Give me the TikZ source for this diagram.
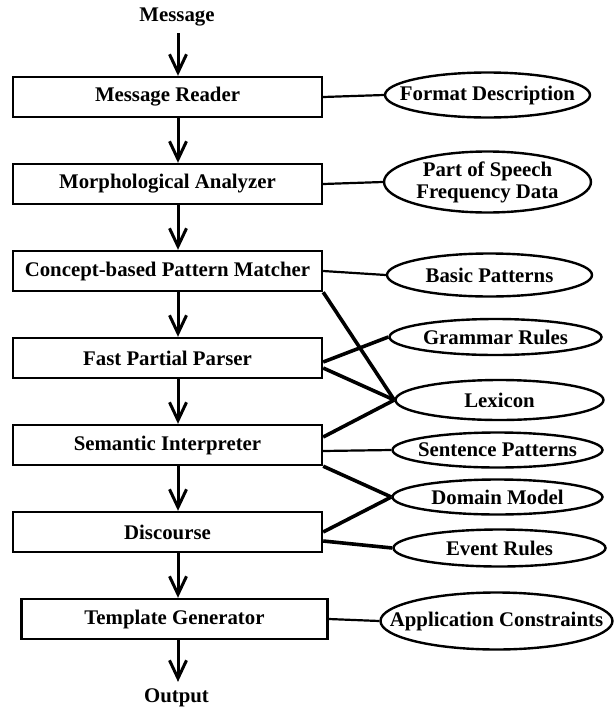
\documentclass[tikz,border=0pt]{standalone}
\usepackage{fontspec}
\setmainfont{Liberation Serif}
\usetikzlibrary{shapes.geometric,arrows.meta}

\begin{document}
\begin{tikzpicture}[x=0.5pt, y=-0.5pt, node distance=43.5pt,
    every node/.style={font=\fontsize{10.4}{11}\selectfont\bfseries},
    stage/.style={rectangle, draw, line width=1.2pt, minimum width=154.5pt, minimum height=20pt, inner sep=0pt},
    res/.style={ellipse, draw, line width=1.2pt, inner xsep=-15pt, inner ysep=0pt, align=center, node distance=160pt},
    flow/.style={line width=1.5pt, -{Straight Barb[length=9pt,width=8.5pt]}},
    link/.style={line width=1.1pt},
    slant/.style={line width=1.8pt}]
    \useasboundingbox (0,0) rectangle (615,707);

    \node[stage] (reader) at (167.5,97) {Message Reader};
    \node (msg) [above of = reader, node distance=40pt, xshift=4.75pt] {Message};
    \node[stage] (morph) [below of = reader] {Morphological Analyzer};
    \node[stage] (concept) [below of = morph] {Concept-based Pattern Matcher};
    \node[stage] (fast) [below of = concept] {Fast Partial Parser};
    \node[stage] (sem) [below of = fast] {Semantic Interpreter};
    \node[stage] (disc) [below of = sem] {Discourse};
    \node[stage, minimum width=153pt] (templ) [below of = disc, xshift=3.5pt] {Template Generator};
    \node (out) [below of = templ, node distance=39.5pt, xshift=1pt] {Output};
    \coordinate (spine) at (178,0);

    \node[res, minimum width=102.5pt, minimum height=22.5pt] (fmt) [right of = reader, yshift=1pt] {Format Description};
    \node[res, minimum width=103.5pt, minimum height=30.5pt] (pos) [right of = morph, yshift=1pt] {Part of Speech\\Frequency Data};
    \node[res, minimum width=102.5pt, minimum height=21.5pt] (basic) [right of = concept, xshift=1pt, yshift=-2pt] {Basic Patterns};
    \node[res, minimum width=106pt, minimum height=18pt] (gram) [right of = fast, xshift=4pt, yshift=10.5pt] {Grammar Rules};
    \node[res, minimum width=104pt, minimum height=20pt] (lex) [right of = fast, xshift=6pt, yshift=-21pt] {Lexicon};
    \node[res, minimum width=105pt, minimum height=17.5pt] (sent) [right of = sem, xshift=5pt, yshift=-2.5pt] {Sentence Patterns};
    \node[res, minimum width=105pt, minimum height=17.5pt] (dom) [right of = disc, xshift=5pt, yshift=17.5pt] {Domain Model};
    \node[res, minimum width=106pt, minimum height=18.5pt] (evt) [right of = disc, xshift=6pt, yshift=-8pt] {Event Rules};
    \node[res, minimum width=116pt, minimum height=28.5pt] (app) [right of = templ, xshift=1pt, yshift=-1pt] {Application Constraints};

    % processing chain
    \path[flow]
        (msg.south -| spine) edge (reader.north -| spine)
        (reader.south -| spine) edge (morph.north -| spine)
        (morph.south -| spine) edge (concept.north -| spine)
        (concept.south -| spine) edge (fast.north -| spine)
        (fast.south -| spine) edge (sem.north -| spine)
        (sem.south -| spine) edge (disc.north -| spine)
        (disc.south -| spine) edge (templ.north -| spine)
        (templ.south -| spine) edge (out.north -| spine)
    ;

    % knowledge sources
    \path[link]
        (reader.east) edge (fmt.west)
        (morph.east) edge (pos.west)
        (concept.east) edge (basic.west)
        ([yshift=-3pt]sem.east) edge (sent.west)
        (templ.east) edge (app.west)
    ;
    \path[slant]
        (concept.south east) edge (lex.west)
        ([yshift=-2pt]fast.east) edge (gram.west)
        ([yshift=-5pt]fast.east) edge (lex.west)
        ([yshift=4pt]sem.east) edge (lex.west)
        (sem.south east) edge (dom.west)
        (disc.east) edge (dom.west)
        ([yshift=-4.5pt]disc.east) edge (evt.west)
    ;
\end{tikzpicture}
\end{document}
